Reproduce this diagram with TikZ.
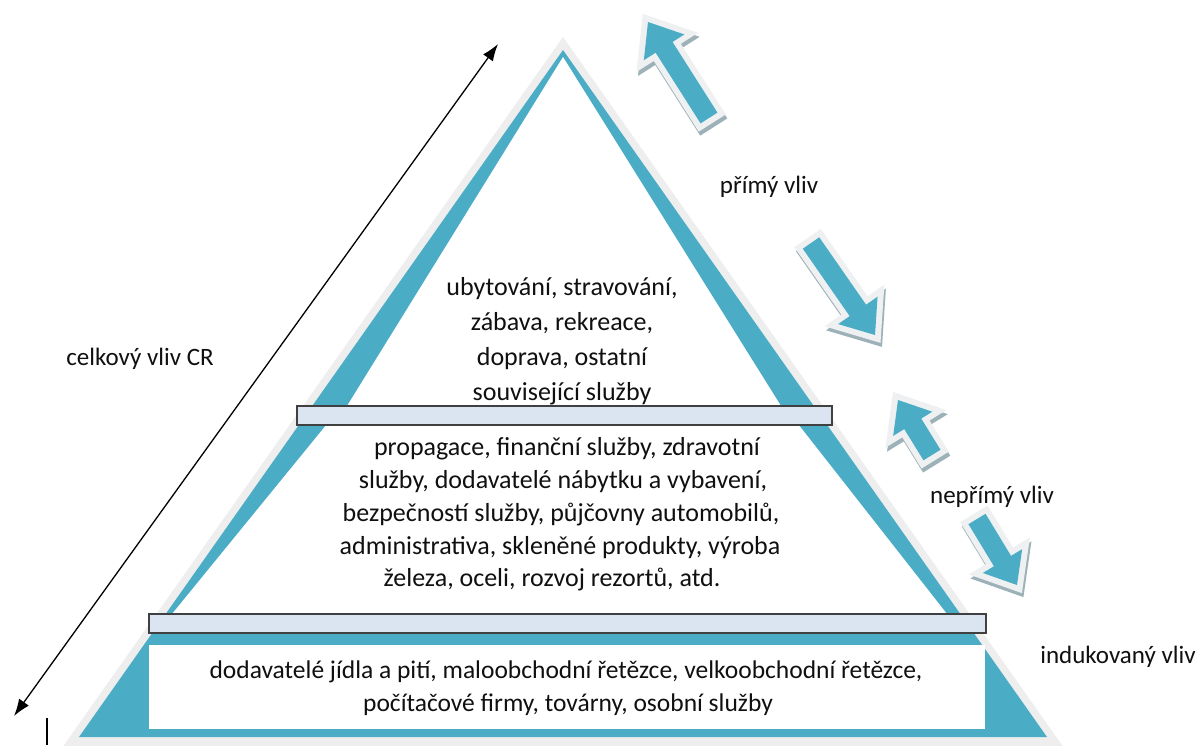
\documentclass[tikz,border=0pt]{standalone}
\usepackage{fontspec}
\setmainfont{Carlito}
\usetikzlibrary{calc,arrows.meta}

\definecolor{pyrblue}{HTML}{4BACC6}
\definecolor{pyrrim}{HTML}{EEEEEE}
\definecolor{barfill}{HTML}{DBE5F1}
\definecolor{bardraw}{HTML}{404040}
\definecolor{arrowrim}{HTML}{EEF0F1}
\definecolor{arrowshadow}{HTML}{9DB1B8}
\definecolor{inktext}{HTML}{101010}

% block arrow: tail, tip, shaft half-width, head half-width, head length
\newcommand\blockarrow[5]{%
  \coordinate (ba-t) at #1;
  \coordinate (ba-p) at #2;
  \coordinate (ba-h) at ($(ba-p)!#5!(ba-t)$);
  \coordinate (ba-1) at ($(ba-t)!#3!90:(ba-p)$);
  \coordinate (ba-2) at ($(ba-h)!#3!90:(ba-p)$);
  \coordinate (ba-3) at ($(ba-h)!#4!90:(ba-p)$);
  \coordinate (ba-5) at ($(ba-h)!#4!-90:(ba-p)$);
  \coordinate (ba-6) at ($(ba-h)!#3!-90:(ba-p)$);
  \coordinate (ba-7) at ($(ba-t)!#3!-90:(ba-p)$);
  \begin{scope}[transform canvas={shift={(1.5pt,-4pt)}}]
    \filldraw[arrowshadow, line width=12pt, line join=miter]
      (ba-1) -- (ba-2) -- (ba-3) -- (ba-p) -- (ba-5) -- (ba-6) -- (ba-7) -- cycle;
  \end{scope}
  \filldraw[arrowrim, line width=12pt, line join=miter]
    (ba-1) -- (ba-2) -- (ba-3) -- (ba-p) -- (ba-5) -- (ba-6) -- (ba-7) -- cycle;
  \fill[pyrblue]
    (ba-1) -- (ba-2) -- (ba-3) -- (ba-p) -- (ba-5) -- (ba-6) -- (ba-7) -- cycle;
}

\begin{document}
\begin{tikzpicture}[x=1pt, y=-1pt,
  txt/.style={font=\fontsize{25}{30}\selectfont, text=inktext, inner sep=0pt, anchor=base},
  lvl/.style={txt, font=\fontsize{26}{30}\selectfont},
  lvlbase/.style={txt, font=\fontsize{25.5}{30}\selectfont},
  bar/.style={fill=barfill, draw=bardraw, line width=1.5pt},
  twoway/.style={line width=1.3pt, {Latex[length=17pt, width=12pt]}-{Latex[length=17pt, width=12pt]}}]
\useasboundingbox (0,0) rectangle (1198,745);
\fill[white] (0,0) rectangle (1198,745);

% pyramid body: soft rim, blue frame and the white fields of the three levels
\fill[pyrrim] (563,37) -- (1064,748) -- (62,748) -- cycle;
\fill[pyrblue] (563,50) -- (1047,737) -- (79,737) -- cycle;
\fill[white] (563,57) -- (781,406) -- (347,406) -- cycle;
\fill[white] (327,424) -- (798,424) -- (947,614) -- (172,614) -- cycle;
\fill[white] (149,645) rectangle (985,729);

% separating bars
\path[bar] (297,406) rectangle (832,425);
\path[bar] (149,614) rectangle (986,633);

% level texts
\foreach \t [count=\i] in {{ubytování, stravování,}, {zábava, rekreace,}, {doprava, ostatní}, {související služby}}
  \node[lvl] (top-\i) at (562, 260+35*\i) {\t};

\node[lvl] (mid-1) at (567,455) {propagace, finanční služby, zdravotní};
\node[lvl] (mid-2) at (563,488) {služby, dodavatelé nábytku a vybavení,};
\node[lvl] (mid-3) at (561,521) {bezpečností služby, půjčovny automobilů,};
\node[lvl] (mid-4) at (560,554) {administrativa, skleněné produkty, výroba};
\node[lvl] (mid-5) at (552,586) {železa, oceli, rozvoj rezortů, atd.};

\node[lvlbase] (bot-1) at (566,678) {dodavatelé jídla a pití, maloobchodní řetězce, velkoobchodní řetězce,};
\node[lvlbase] (bot-2) at (568,711) {počítačové firmy, továrny, osobní služby};

% side labels
\node[txt] (total) at (140,365) {celkový vliv CR};
\node[txt] (direct) at (769,193) {přímý vliv};
\node[txt] (indirect) at (992,503) {nepřímý vliv};
\node[txt] (induced) at (1118,663) {indukovaný vliv};

% overall impact arrow
\coordinate (tot-top) at (498,44);
\coordinate (tot-bot) at (14,716);
\draw[twoway] (tot-bot) -- (tot-top);
\coordinate (tick-a) at (47,718);
\coordinate (tick-b) at (47,745);
\draw[line width=2pt] (tick-a) -- (tick-b);

% direction arrows
\blockarrow{(709,118)}{(648,22)}{10pt}{24pt}{30pt}
\blockarrow{(811,243)}{(875,335)}{10pt}{24pt}{30pt}
\blockarrow{(932,455)}{(898,400)}{10pt}{23pt}{28pt}
\blockarrow{(977,519)}{(1017,585)}{10pt}{23pt}{28pt}
\end{tikzpicture}
\end{document}
